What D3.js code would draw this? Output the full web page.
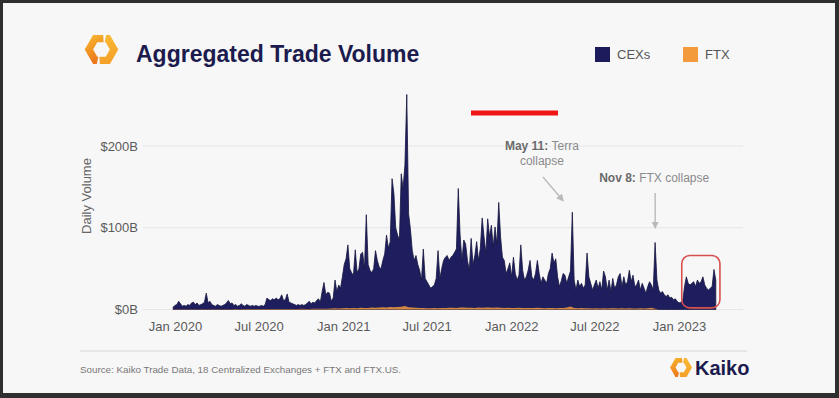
<!DOCTYPE html>
<html>
<head>
<meta charset="utf-8">
<script src="https://cdn.jsdelivr.net/npm/d3@7"></script>
<style>
  html, body { margin: 0; padding: 0; background: #2f2f2f; }
  svg { display: block; font-family: "Liberation Sans", Arial, sans-serif; }
</style>
</head>
<body>
<svg id="chart" width="839" height="398"></svg>
<script>
// ---------------- DATA ----------------
const title = "Aggregated Trade Volume";
const seriesNames = ["CEXs", "FTX"];
const seriesColors = ["#1c1c5c", "#f39b3c"];
const yTickValues = [0, 100, 200];
const yTickLabels = ["$0B", "$100B", "$200B"];
const xTickDates = ["2020-01-01", "2020-07-01", "2021-01-01", "2021-07-01", "2022-01-01", "2022-07-01", "2023-01-01"];
const xTickLabels = ["Jan 2020", "Jul 2020", "Jan 2021", "Jul 2021", "Jan 2022", "Jul 2022", "Jan 2023"];

// CEX daily volume (billions USD), sampled every 4 days starting 2019-12-28
const cexStart = "2019-12-28";
const cexStepDays = 4;
const cexValues = [
  3,5,6,10,7,4,5,4,6,5,
  8,9,6,8,5,6,7,9,20,8,
  10,6,5,4,6,5,4,5,6,8,
  11,7,8,5,6,4,5,7,5,4,
  6,5,4,5,4,5,4,4,5,4,
  6,14,12,11,13,12,14,12,13,18,
  11,12,19,9,8,7,6,5,6,5,
  6,5,6,8,10,7,9,8,11,13,
  9,22,33,18,21,20,10,14,36,22,
  30,26,40,55,62,79,50,45,42,73,
  45,50,68,70,50,116,55,48,45,50,
  72,60,52,50,60,68,91,75,83,160,
  142,100,91,85,166,148,177,263,117,98,
  72,60,66,55,48,36,74,38,34,30,
  26,28,30,38,72,38,50,60,64,66,
  60,64,66,70,74,148,91,60,85,80,
  60,48,87,55,66,83,60,75,112,89,
  69,111,89,103,77,101,80,131,89,64,
  60,44,50,57,40,64,44,36,42,79,
  48,36,40,48,60,40,36,44,60,44,
  32,40,36,32,44,50,69,57,62,40,
  28,35,44,42,32,40,47,119,36,24,
  36,28,32,26,30,69,40,32,24,30,
  36,26,34,24,47,40,24,36,22,38,
  26,30,40,44,28,40,30,34,48,34,
  42,28,30,36,24,32,26,20,28,34,
  30,24,82,36,24,20,22,18,16,18,
  14,15,12,13,10,8,9,10,28,40,
  32,30,32,34,28,36,32,34,40,30,
  26,24,26,28,49,36
];

// FTX daily volume (billions USD), sampled every 8 days starting 2019-12-28
const ftxStart = "2019-12-28";
const ftxStepDays = 8;
const ftxValues = [
  0.2,0.3,0.2,0.3,0.3,0.3,0.3,0.4,0.3,0.3,
  0.3,0.3,0.4,0.3,0.3,0.4,0.3,0.5,0.4,0.5,
  0.5,0.5,0.6,0.5,0.7,0.6,0.5,0.6,0.7,0.7,
  0.6,0.7,0.6,0.7,0.7,0.8,0.7,0.7,0.8,0.9,
  0.8,1.0,0.9,1.2,1.4,1.1,1.5,1.7,1.4,1.9,
  1.6,2.0,1.7,1.9,2.3,2.0,2.4,2.8,2.5,3.0,
  2.7,3.2,3.5,4.2,2.9,2.4,2.0,1.7,1.9,1.6,
  1.5,1.7,1.5,1.9,1.7,2.0,2.2,1.8,2.3,2.4,
  2.0,2.2,1.9,2.3,2.1,2.5,2.3,2.0,2.4,2.1,
  1.9,2.1,1.9,1.7,2.0,1.8,1.7,1.9,1.7,2.1,
  1.8,1.6,1.9,1.7,1.5,1.7,1.9,2.3,3.6,1.9,
  1.5,1.7,1.4,1.6,1.3,1.5,1.3,1.5,1.3,1.6,
  1.4,1.2,1.5,1.3,1.5,1.3,1.2,1.4,1.3,1.5,
  2.0,0.8,0
];

const annotations = [
  { date: "2022-05-11", bold: "May 11:", lines: ["Terra", "collapse"] },
  { date: "2022-11-08", bold: "Nov 8:", lines: ["FTX collapse"] }
];
const highlightRange = { from: "2023-01-07", to: "2023-03-31", low: 2, high: 66 };
const sourceText = "Source: Kaiko Trade Data, 18 Centralized Exchanges + FTX and FTX.US.";
const brandName = "Kaiko";

// ---------------- DRAW ----------------
const parse = d3.timeParse("%Y-%m-%d");
const svg = d3.select("#chart");
const W = 839, H = 398;

svg.append("rect").attr("width", W).attr("height", H).attr("fill", "#2f2f2f");
svg.append("rect").attr("x", 3).attr("y", 3).attr("width", 832).attr("height", 390).attr("fill", "#f7f7f8");

const defs = svg.append("defs");
const gL = defs.append("linearGradient").attr("id", "logoL").attr("x1", 0).attr("y1", 0).attr("x2", 0.3).attr("y2", 1);
gL.append("stop").attr("offset", "0%").attr("stop-color", "#f9bb30");
gL.append("stop").attr("offset", "100%").attr("stop-color", "#ec781b");
const gR = defs.append("linearGradient").attr("id", "logoR").attr("x1", 0).attr("y1", 0).attr("x2", 0).attr("y2", 1);
gR.append("stop").attr("offset", "0%").attr("stop-color", "#f9b832");
gR.append("stop").attr("offset", "100%").attr("stop-color", "#f4a028");
defs.append("marker").attr("id", "arrowHead").attr("viewBox", "0 0 10 10")
  .attr("refX", 8).attr("refY", 5).attr("markerWidth", 5).attr("markerHeight", 5)
  .attr("orient", "auto").attr("markerUnits", "strokeWidth")
  .append("path").attr("d", "M0,0 L10,5 L0,10 Z").attr("fill", "#b9b9b9");

function drawLogo(cx, cy, Ro) {
  const Ri = Ro * 0.5;
  const P = (r, k) => [r * Math.cos(Math.PI / 3 * k), r * Math.sin(Math.PI / 3 * k)];
  const lerp = (a, b, t) => [a[0] + (b[0] - a[0]) * t, a[1] + (b[1] - a[1]) * t];
  const O = d3.range(6).map(k => P(Ro, k)), I = d3.range(6).map(k => P(Ri, k));
  const left = [lerp(O[4], O[5], 0.6), O[4], O[3], O[2], lerp(O[2], O[1], 0.22),
                lerp(I[2], I[1], 0.12), I[2], I[3], I[4], lerp(I[4], I[5], 0.75)];
  const right = left.map(p => [-p[0], -p[1]]);
  const g = svg.append("g").attr("transform", `translate(${cx},${cy})`);
  g.append("path").attr("d", "M" + left.join("L") + "Z").attr("fill", "url(#logoL)");
  g.append("path").attr("d", "M" + right.join("L") + "Z").attr("fill", "url(#logoR)");
}

drawLogo(101.5, 49.5, 16.8);
svg.append("text").attr("x", 136).attr("y", 62).attr("font-size", 23).attr("font-weight", "bold")
  .attr("fill", "#1c1b4d").text(title);

// legend
const legendX = [595, 683];
seriesNames.forEach((n, i) => {
  svg.append("rect").attr("x", legendX[i]).attr("y", 47).attr("width", 15).attr("height", 15).attr("fill", seriesColors[i]);
  svg.append("text").attr("x", legendX[i] + 22).attr("y", 58.5).attr("font-size", 13).attr("fill", "#555").text(n);
});

// scales
const x = d3.scaleTime().domain([parse("2020-01-01"), parse("2023-01-01")]).range([175, 679]);
const y = d3.scaleLinear().domain([0, 200]).range([309.5, 146]);
const plotLeft = 143, plotRight = 743;

// grid
svg.append("g").selectAll("line").data(yTickValues).join("line")
  .attr("x1", plotLeft).attr("x2", plotRight)
  .attr("y1", d => y(d)).attr("y2", d => y(d))
  .attr("stroke", "#e6e6e8").attr("stroke-width", 1);

// y axis labels
const yAxis = d3.axisLeft(y).tickValues(yTickValues).tickFormat((d, i) => yTickLabels[i]).tickSize(0).tickPadding(0);
const yg = svg.append("g").attr("transform", "translate(138,0)").call(yAxis);
yg.select(".domain").remove();
yg.selectAll("text").attr("font-size", 13).attr("fill", "#5a5a5a").attr("font-family", "Liberation Sans, Arial, sans-serif");

svg.append("text").attr("transform", "translate(91,196) rotate(-90)").attr("text-anchor", "middle")
  .attr("font-size", 13).attr("fill", "#666").text("Daily Volume");

// x axis labels
const xAxis = d3.axisBottom(x).tickValues(xTickDates.map(parse)).tickFormat((d, i) => xTickLabels[i]).tickSize(0).tickPadding(0);
const xg = svg.append("g").attr("transform", "translate(0,322)").call(xAxis);
xg.select(".domain").remove();
xg.selectAll("text").attr("font-size", 13).attr("fill", "#5a5a5a").attr("font-family", "Liberation Sans, Arial, sans-serif");

// data
const cex = cexValues.map((v, i) => ({ date: d3.timeDay.offset(parse(cexStart), i * cexStepDays), v }));
const ftx = ftxValues.map((v, i) => ({ date: d3.timeDay.offset(parse(ftxStart), i * ftxStepDays), v }));
const area = d3.area().x(d => x(d.date)).y0(y(0)).y1(d => y(d.v));

svg.append("path").datum(cex).attr("d", area).attr("fill", "#1e1e5e")
  .attr("stroke", "#15153f").attr("stroke-width", 0.8).attr("stroke-linejoin", "round");
svg.append("path").datum(ftx).attr("d", area).attr("fill", seriesColors[1]).attr("opacity", 0.85);

// red marker bar at top
svg.append("rect").attr("x", 471).attr("y", 110.5).attr("width", 87).attr("height", 5).attr("fill", "#f01616");

// annotations
const a1 = annotations[0], ax1 = x(parse(a1.date));
const t1 = svg.append("text").attr("x", ax1 - 29).attr("y", 150).attr("text-anchor", "middle").attr("font-size", 12);
t1.append("tspan").attr("font-weight", "bold").attr("fill", "#6a6a6a").text(a1.bold + " ");
t1.append("tspan").attr("fill", "#8a8a8a").text(a1.lines[0]);
svg.append("text").attr("x", ax1 - 29).attr("y", 164.5).attr("text-anchor", "middle").attr("font-size", 12)
  .attr("fill", "#8a8a8a").text(a1.lines[1]);
svg.append("line").attr("x1", ax1 - 28).attr("y1", 177).attr("x2", ax1 - 8).attr("y2", 200.5)
  .attr("stroke", "#bdbdbd").attr("stroke-width", 1.5).attr("marker-end", "url(#arrowHead)");

const a2 = annotations[1], ax2 = x(parse(a2.date));
const t2 = svg.append("text").attr("x", ax2).attr("y", 181.5).attr("text-anchor", "middle").attr("font-size", 12);
t2.append("tspan").attr("font-weight", "bold").attr("fill", "#6a6a6a").text(a2.bold + " ");
t2.append("tspan").attr("fill", "#8a8a8a").text(a2.lines[0]);
svg.append("line").attr("x1", ax2 + 1).attr("y1", 193).attr("x2", ax2 + 1).attr("y2", 227.5)
  .attr("stroke", "#bdbdbd").attr("stroke-width", 1.5).attr("marker-end", "url(#arrowHead)");

// highlight box
const hx0 = x(parse(highlightRange.from)), hx1 = x(parse(highlightRange.to));
svg.append("rect").attr("x", hx0).attr("y", y(highlightRange.high))
  .attr("width", hx1 - hx0).attr("height", y(highlightRange.low) - y(highlightRange.high))
  .attr("rx", 8).attr("fill", "none").attr("stroke", "#d6504d").attr("stroke-width", 1.6);

// footer
svg.append("line").attr("x1", 80).attr("x2", 747).attr("y1", 351).attr("y2", 351).attr("stroke", "#d6d6d6").attr("stroke-width", 1);
svg.append("text").attr("x", 80).attr("y", 372.5).attr("font-size", 9.8).attr("fill", "#777").text(sourceText);
drawLogo(681, 367.5, 11);
svg.append("text").attr("x", 695).attr("y", 375).attr("font-size", 20).attr("font-weight", "bold")
  .attr("fill", "#1c1b4d").text(brandName);
</script>
</body>
</html>
